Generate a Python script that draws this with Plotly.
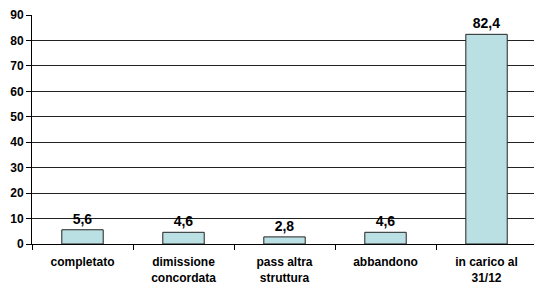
import plotly.graph_objects as go

categories = ["completato", "dimissione<br>concordata", "pass altra<br>struttura", "abbandono", "in carico al<br>31/12"]
values = [5.6, 4.6, 2.8, 4.6, 82.4]

fig = go.Figure()
fig.add_trace(go.Bar(
    x=categories, y=values,
    marker=dict(color="#BBE0E3", line=dict(color="#222222", width=1)),
    texttemplate="<b>%{y:.1f}</b>", textposition="outside", cliponaxis=False,
    textfont=dict(family="Arial, Liberation Sans", size=14, color="#000000"),
    width=0.41,
))
fig.update_layout(
    width=534, height=286,
    margin=dict(l=32, r=0, t=15, b=42, autoexpand=False),
    paper_bgcolor="white", plot_bgcolor="white",
    separators=",.",
    showlegend=False,
    font=dict(family="Arial, Liberation Sans", color="#000000"),
)
fig.update_xaxes(
    automargin=False,
    range=[-0.5, 4.47],
    tickfont=dict(size=12, family="Arial, Liberation Sans"),
    tickprefix="<b>", ticksuffix="</b>",
    showline=True, linecolor="#000000", linewidth=1,
    ticks="outside", tickson="boundaries", ticklen=5, tickcolor="#000000",
    ticklabelstandoff=7,
    showgrid=False,
)
fig.update_yaxes(
    automargin=False,
    range=[0, 90], dtick=10,
    tickfont=dict(size=12, family="Arial, Liberation Sans"),
    tickprefix="<b>", ticksuffix="</b>",
    showline=True, linecolor="#000000", linewidth=1,
    ticks="outside", ticklen=5, tickcolor="#000000",
    showgrid=True, gridcolor="#222222", gridwidth=1,
    zeroline=False,
)
fig.write_html(
    "out.html",
    config={"displayModeBar": False},
    post_script="document.body.style.margin='0';document.body.style.overflow='hidden';",
)
